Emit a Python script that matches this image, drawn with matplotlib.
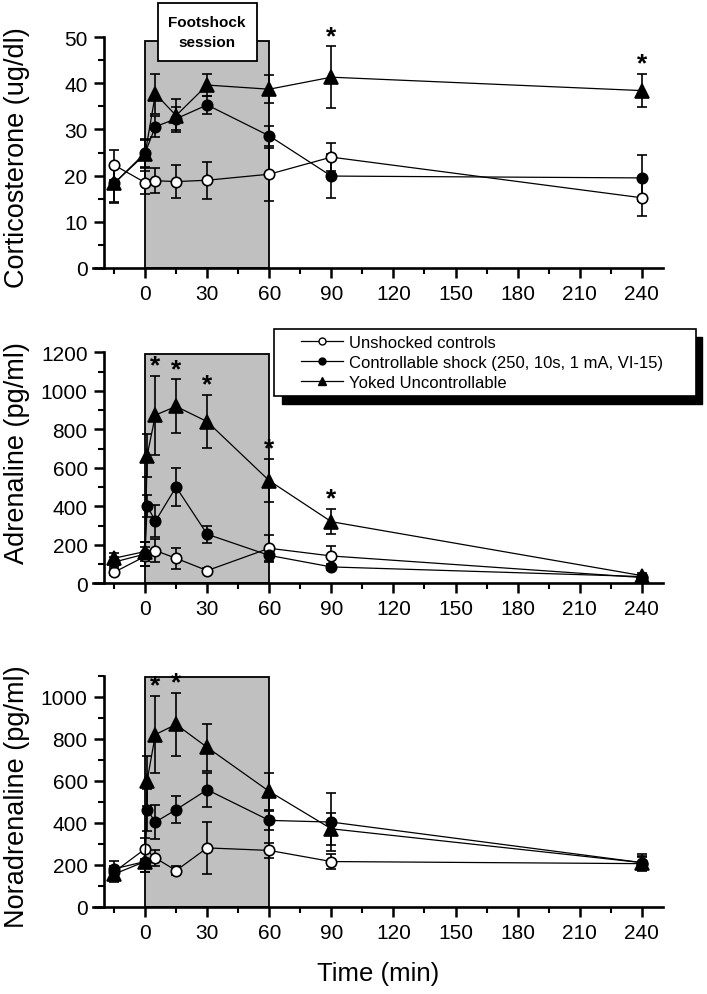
import matplotlib
matplotlib.use('Agg')
import matplotlib.pyplot as plt
from matplotlib.patches import Rectangle
from matplotlib.lines import Line2D
import numpy as np

plt.rcParams['font.family'] = ['Liberation Sans', 'DejaVu Sans']

# sampling times (min)
t_cort = [-15, 0, 5, 15, 30, 60, 90, 240]
t_unshocked = [-15, 0, 5, 15, 30, 60, 90, 240]
t_shocked = [-15, 0, 1, 5, 15, 30, 60, 90, 240]

# Corticosterone (ug/dl)
cort_unshocked = [22.3, 18.5, 18.9, 18.7, 19.0, 20.3, 24.0, 15.2]
cort_unshocked_err = [3.3, 2.5, 2.7, 3.5, 4.0, 5.7, 3.0, 4.0]
cort_controllable = [18.3, 24.9, 30.6, 32.3, 35.3, 28.6, 19.9, 19.5]
cort_controllable_err = [4.0, 3.0, 2.3, 2.5, 2.0, 2.2, 4.7, 5.0]
cort_yoked = [18.3, 24.6, 37.7, 33.0, 39.6, 38.7, 41.3, 38.4]
cort_yoked_err = [4.2, 3.0, 4.3, 3.5, 2.3, 3.0, 6.7, 3.6]
cort_sig = [90, 240]

# Adrenaline (pg/ml)
adr_unshocked = [57, 140, 170, 130, 66, 182, 142, 30]
adr_unshocked_err = [15, 50, 60, 55, 15, 70, 50, 10]
adr_controllable = [110, 152, 402, 323, 500, 255, 145, 85, 35]
adr_controllable_err = [25, 60, 57, 85, 100, 45, 30, 15, 10]
adr_yoked = [130, 165, 663, 874, 919, 840, 533, 320, 40]
adr_yoked_err = [30, 50, 110, 205, 140, 138, 112, 65, 15]
adr_sig = [5, 15, 30, 60, 90]

# Noradrenaline (pg/ml)
nor_unshocked = [165, 275, 232, 172, 280, 268, 215, 205]
nor_unshocked_err = [30, 50, 40, 20, 125, 35, 35, 30]
nor_controllable = [180, 215, 462, 403, 462, 557, 411, 403, 210]
nor_controllable_err = [40, 50, 100, 80, 65, 80, 45, 140, 30]
nor_yoked = [155, 215, 600, 820, 868, 759, 549, 371, 210]
nor_yoked_err = [35, 50, 120, 185, 152, 112, 90, 75, 40]
nor_sig = [5, 15]

labels = ['Unshocked controls', 'Controllable shock (250, 10s, 1 mA, VI-15)',
          'Yoked Uncontrollable']

W, H = 707, 995
fig = plt.figure(figsize=(W / 100, H / 100), dpi=100)


def px_box(x0, y0, x1, y1):
    # pixel box (top-left origin) -> figure fraction rect
    return [x0 / W, 1 - y1 / H, (x1 - x0) / W, (y1 - y0) / H]


def panel(rect, ylim, ymajor, yminor, ylabel, label_y, shade_top, series, sig):
    ax = fig.add_axes(rect)
    ax.set_xlim(-25, 250)
    ax.set_ylim(0, ylim)
    ax.add_patch(Rectangle((0, 0), 60, shade_top, facecolor='#c0c0c0',
                           edgecolor='k', lw=1.3, zorder=0.5))
    for t, y, e, mk, mfc, ms in series:
        ax.errorbar(t, y, yerr=e, fmt='-', marker=mk, color='k', mfc=mfc,
                    mec='k', ms=ms, mew=1.2, lw=0.9, elinewidth=1.2,
                    capsize=3.8, capthick=1.2, zorder=3)
    # significance marks above the yoked group
    ty, yy, ey = series[-1][0], series[-1][1], series[-1][2]
    for s in sig:
        i = ty.index(s)
        ax.annotate('*', (s, yy[i] + ey[i]), xytext=(0, 7.5),
                    textcoords='offset points', ha='center', va='center',
                    fontsize=19, fontweight='bold', annotation_clip=False)
    for side in ['top', 'right']:
        ax.spines[side].set_visible(False)
    ax.spines['left'].set_position(('data', -20))
    ax.spines['left'].set_linewidth(1.9)
    ax.spines['bottom'].set_linewidth(1.9)
    ax.set_xticks(np.arange(0, 241, 30))
    ax.set_xticks(np.arange(-15, 250, 15), minor=True)
    ax.set_yticks(np.arange(0, ylim + 1, ymajor))
    ax.set_yticks(np.arange(0, ylim + 1, yminor), minor=True)
    ax.tick_params(which='major', direction='out', length=7.5, width=1.8,
                   labelsize=15, pad=4)
    ax.tick_params(which='minor', direction='out', length=4.5, width=1.5)
    ax.set_ylabel(ylabel, fontsize=19.5)
    ax.yaxis.set_label_coords((30 - 93.3) / 569.2, label_y)
    return ax


ax1 = panel(px_box(93.3, 38, 662.5, 269), 50, 10, 5, 'Corticosterone (ug/dl)', 0.48, 49.2,
            [(t_cort, cort_unshocked, cort_unshocked_err, 'o', 'white', 7.5),
             (t_cort, cort_controllable, cort_controllable_err, 'o', 'black', 7.5),
             (t_cort, cort_yoked, cort_yoked_err, '^', 'black', 10)],
            cort_sig)

ax2 = panel(px_box(93.3, 353.3, 662.5, 584.3), 1200, 200, 100, 'Adrenaline (pg/ml)', 0.57, 1190,
            [(t_unshocked, adr_unshocked, adr_unshocked_err, 'o', 'white', 7.5),
             (t_shocked, adr_controllable, adr_controllable_err, 'o', 'black', 7.5),
             (t_shocked, adr_yoked, adr_yoked_err, '^', 'black', 10)],
            adr_sig)

ax3 = panel(px_box(93.3, 676.7, 662.5, 907.7), 1100, 200, 100, 'Noradrenaline (pg/ml)', 0.48, 1092,
            [(t_unshocked, nor_unshocked, nor_unshocked_err, 'o', 'white', 7.5),
             (t_shocked, nor_controllable, nor_controllable_err, 'o', 'black', 7.5),
             (t_shocked, nor_yoked, nor_yoked_err, '^', 'black', 10)],
            nor_sig)
ax3.set_xlabel('Time (min)', fontsize=18.5, labelpad=14)

# legend frame with solid shadow
fig.patches.append(Rectangle((282 / W, 1 - 405 / H), 420 / W, 67 / H,
                             transform=fig.transFigure, facecolor='black',
                             edgecolor='black', zorder=4))
fig.patches.append(Rectangle((274 / W, 1 - 397 / H), 422 / W, 67 / H,
                             transform=fig.transFigure, facecolor='white',
                             edgecolor='black', lw=1.2, zorder=4.5))
handles = [Line2D([], [], color='k', lw=0.9, marker='o', mfc='white', mec='k', ms=5),
           Line2D([], [], color='k', lw=0.9, marker='o', mfc='black', mec='k', ms=5),
           Line2D([], [], color='k', lw=0.9, marker='^', mfc='black', mec='k', ms=6)]
leg = fig.legend(handles, labels, loc='upper left', bbox_to_anchor=(301 / W, 1 - 336 / H),
                 frameon=False, fontsize=12, handlelength=2.5, handletextpad=0.4,
                 labelspacing=0.3, borderpad=0, borderaxespad=0)
leg.set_zorder(5)

# footshock session box
fig.patches.append(Rectangle((158 / W, 1 - 62 / H), 99 / W, 58 / H,
                             transform=fig.transFigure, facecolor='white',
                             edgecolor='black', lw=1.3, zorder=4))
fig.text(207 / W, 1 - 33 / H, 'Footshock\nsession', ha='center', va='center',
         fontsize=11, fontweight='bold', linespacing=1.5, zorder=5)

fig.savefig('out.png', dpi=100)
